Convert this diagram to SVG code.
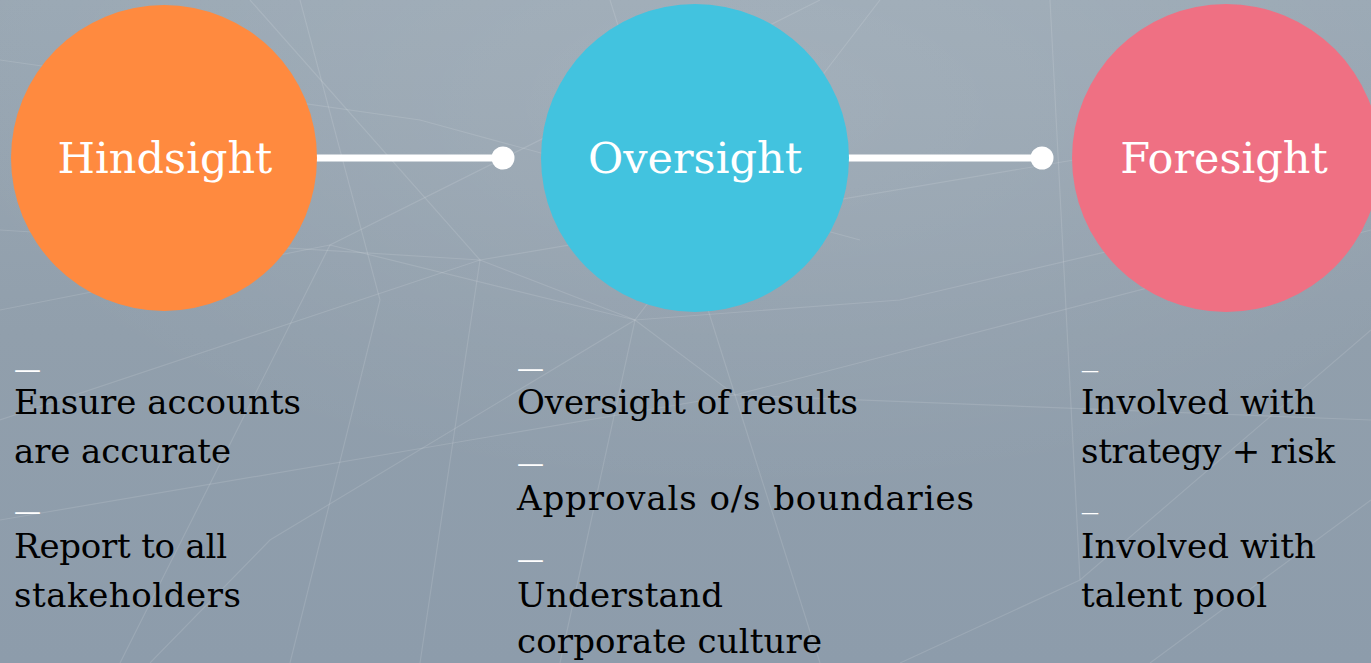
<svg xmlns="http://www.w3.org/2000/svg" width="1371" height="663" viewBox="0 0 1371 663">
  <defs>
    <linearGradient id="bg" x1="0" y1="0" x2="0" y2="1">
      <stop offset="0" stop-color="#9aa8b4"/>
      <stop offset="0.5" stop-color="#919fac"/>
      <stop offset="1" stop-color="#8d9cab"/>
    </linearGradient>
    <radialGradient id="glow" cx="0.55" cy="0.15" r="0.6">
      <stop offset="0" stop-color="#ffffff" stop-opacity="0.10"/>
      <stop offset="1" stop-color="#ffffff" stop-opacity="0"/>
    </radialGradient>
    <style>
      .net { stroke: #ffffff; stroke-opacity: 0.12; stroke-width: 1.2; fill: none; }
      .title { font-family: "Rockwell", "DejaVu Serif", serif; font-size: 43px; fill: #ffffff; text-anchor: middle; }
      .body { font-family: "Rockwell", "DejaVu Serif", serif; font-size: 34px; fill: #000000; }
      .dash { font-family: "DejaVu Serif", serif; font-size: 27px; fill: #ffffff; }
      .dash-short { font-family: "DejaVu Serif", serif; font-size: 18px; fill: #ffffff; }
      .link { stroke: #ffffff; stroke-width: 7; }
      .dot { fill: #ffffff; }
    </style>
  </defs>

  <!-- backdrop -->
  <rect width="1371" height="663" fill="url(#bg)"/>
  <rect width="1371" height="663" fill="url(#glow)"/>

  <!-- faint network texture -->
  <g class="net">
    <path d="M0 230 L480 260 L635 320 L735 395 L1371 420"/>
    <path d="M0 310 L330 245 L635 320 L900 300 L1371 190"/>
    <path d="M250 0 L480 260 L420 663"/>
    <path d="M300 0 L380 300 L290 663"/>
    <path d="M880 0 L635 320 L560 663"/>
    <path d="M610 0 L735 395 L820 663"/>
    <path d="M120 663 L330 245 L820 0"/>
    <path d="M0 520 L735 395 L1371 230"/>
    <path d="M1371 330 L1080 580 L900 663"/>
    <path d="M0 420 L480 260 L1371 110"/>
    <path d="M1050 0 L1080 580"/>
    <path d="M0 60 L420 120 L860 240"/>
    <path d="M150 663 L270 540 L635 320"/>
    <path d="M1150 663 L1371 500"/>
  </g>

  <!-- connectors -->
  <g id="connectors">
    <line class="link" x1="310" y1="158" x2="503" y2="158"/>
    <circle class="dot" cx="503" cy="158" r="11.5"/>
    <line class="link" x1="845" y1="158" x2="1042" y2="158"/>
    <circle class="dot" cx="1042" cy="158" r="11.5"/>
  </g>

  <!-- Hindsight -->
  <g id="hindsight">
    <circle cx="164" cy="158" r="153" fill="#ff8a3f"/>
    <text class="title" x="165" y="173">Hindsight</text>
    <text class="dash" x="14" y="379">—</text>
    <text class="body" x="14" y="414" textLength="287">Ensure accounts</text>
    <text class="body" x="14" y="463" textLength="217">are accurate</text>
    <text class="dash" x="14" y="521">—</text>
    <text class="body" x="14" y="558" textLength="213">Report to all</text>
    <text class="body" x="14" y="607" textLength="227">stakeholders</text>
  </g>

  <!-- Oversight -->
  <g id="oversight">
    <circle cx="695" cy="158" r="154" fill="#42c3df"/>
    <text class="title" x="695" y="173">Oversight</text>
    <text class="dash" x="517" y="378">—</text>
    <text class="body" x="517" y="414" textLength="341">Oversight of results</text>
    <text class="dash" x="517" y="473">—</text>
    <text class="body" x="517" y="510" textLength="457">Approvals o/s boundaries</text>
    <text class="dash" x="517" y="569">—</text>
    <text class="body" x="517" y="607" textLength="206">Understand</text>
    <text class="body" x="517" y="653" textLength="305">corporate culture</text>
  </g>

  <!-- Foresight -->
  <g id="foresight">
    <circle cx="1226" cy="158" r="154" fill="#ef7083"/>
    <text class="title" x="1224" y="173">Foresight</text>
    <text class="dash-short" x="1081" y="377">—</text>
    <text class="body" x="1081" y="414" textLength="235">Involved with</text>
    <text class="body" x="1081" y="463" textLength="254">strategy + risk</text>
    <text class="dash-short" x="1081" y="519">—</text>
    <text class="body" x="1081" y="558" textLength="235">Involved with</text>
    <text class="body" x="1081" y="607" textLength="186">talent pool</text>
  </g>
</svg>
